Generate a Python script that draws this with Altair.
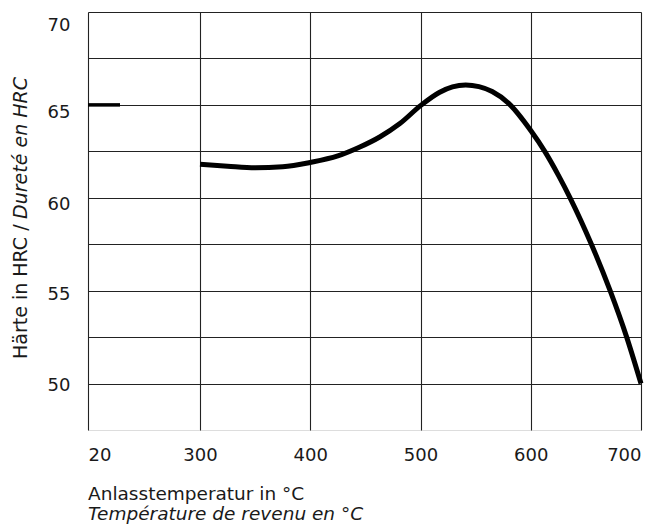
import altair as alt
import pandas as pd

# Tempering curve (°C -> HRC)
temp_main = [300, 325, 350, 375, 400, 425, 445, 463, 481, 500, 517, 529, 541, 553, 565, 580,
             600, 613, 625, 636, 655, 672, 687, 700]
hrc_main = [61.8, 61.7, 61.62, 61.67, 61.9, 62.25, 62.73, 63.27, 63.98, 64.96, 65.67, 65.97,
            66.07, 65.98, 65.72, 65.08, 63.62, 62.47, 61.22, 59.96, 57.5, 55.0, 52.5, 50.0]

# As-hardened value at room temperature
temp_hardened = [20, 100]
hrc_hardened = [65.0, 65.0]

x_ticks = [20, 300, 400, 500, 600, 700]
y_grid = [50, 52.5, 55, 57.5, 60, 62.5, 65, 67.5, 70]

x_title_1 = "Anlasstemperatur in °C"
x_title_2 = "Température de revenu en °C"
y_title_1 = "Härte in HRC / "
y_title_2 = "Dureté en HRC"

FONT = "DejaVu Sans"
TXT = "#1a1a1a"

main_df = pd.DataFrame({"T": temp_main, "HRC": hrc_main})
hard_df = pd.DataFrame({"T": temp_hardened, "HRC": hrc_hardened})

x_scale = alt.Scale(domain=[20, 300, 700], range=[0, 112, 553], nice=False, zero=False)
y_scale = alt.Scale(domain=[47.5, 70], nice=False, zero=False)

x_axis = alt.Axis(values=x_ticks, title=None, grid=True, gridColor="#222", gridWidth=1.1,
                  domain=False, ticks=False, labelFont=FONT, labelFontSize=18,
                  labelColor=TXT, labelPadding=16, labelFlush=True)
y_axis = alt.Axis(values=y_grid, title=None, grid=True, gridColor="#222", gridWidth=1.1,
                  domain=False, ticks=False, labelFont=FONT, labelFontSize=18,
                  labelColor=TXT, labelPadding=18,
                  labelOffset={"condition": [
                      {"test": "datum.value == 70", "value": 13},
                      {"test": "datum.value == 65", "value": 8},
                      {"test": "datum.value == 60", "value": 7},
                      {"test": "datum.value == 55", "value": 4},
                  ], "value": 2},
                  labelExpr="datum.value % 5 == 0 ? datum.label : ''")

main_line = alt.Chart(main_df).mark_line(
    color="black", strokeWidth=5, interpolate="monotone", strokeCap="butt"
).encode(
    x=alt.X("T:Q", scale=x_scale, axis=x_axis),
    y=alt.Y("HRC:Q", scale=y_scale, axis=y_axis),
)

hard_line = alt.Chart(hard_df).mark_line(
    color="black", strokeWidth=3.5, strokeCap="butt"
).encode(
    x=alt.X("T:Q", scale=x_scale),
    y=alt.Y("HRC:Q", scale=y_scale),
)

one = pd.DataFrame({"k": [0]})

xt1 = alt.Chart(one).mark_text(
    font=FONT, fontSize=18.5, color=TXT, align="left", baseline="alphabetic"
).encode(x=alt.value(0), y=alt.value(488), text=alt.value(x_title_1))

xt2 = alt.Chart(one).mark_text(
    font=FONT, fontSize=18.5, fontStyle="italic", color=TXT, align="left", baseline="alphabetic"
).encode(x=alt.value(0), y=alt.value(508), text=alt.value(x_title_2))

yt1 = alt.Chart(one).mark_text(
    font=FONT, fontSize=19, color=TXT, align="left", baseline="alphabetic", angle=270
).encode(x=alt.value(-61), y=alt.value(347), text=alt.value(y_title_1))

yt2 = alt.Chart(one).mark_text(
    font=FONT, fontSize=19, fontStyle="italic", color=TXT, align="right", baseline="alphabetic", angle=270
).encode(x=alt.value(-61), y=alt.value(65), text=alt.value(y_title_2))

chart = alt.layer(main_line, hard_line, xt1, xt2, yt1, yt2).properties(
    width=553,
    height=418,
    padding={"left": 80, "top": 4, "right": 5, "bottom": 96},
    autosize=alt.AutoSizeParams(type="none"),
).configure_view(
    stroke="black", strokeWidth=2
).configure(background="white")

chart.save("out.html", embed_options={"renderer": "svg", "actions": False})
